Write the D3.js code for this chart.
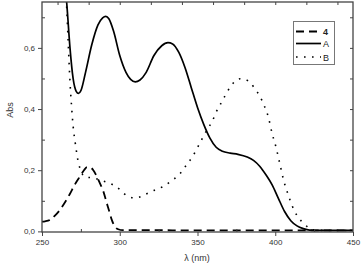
<html>
<script src='https://d3js.org/d3.v7.min.js'></script>
<style>
body {margin:0; background:#fff;}
text {font-family: 'Liberation Sans', Arial, sans-serif;}
</style>
<body>
<svg width=362 height=266></svg>
<script>
// data
var lambda4 = [250,252,255,258,261.5,265,268,271,274.5,277,279,281,283,285,287,289.5,291.5,293,295,297,299,302,320,350,400,450];
var abs4    = [0.032,0.033,0.037,0.05,0.07,0.097,0.123,0.152,0.18,0.2,0.21,0.209,0.2,0.182,0.16,0.13,0.095,0.07,0.036,0.015,0.007,0.004,0.004,0.003,0.003,0.003];

var lambdaA = [262,264,266,268,270,272,273.5,275,278,282,286,289,291,293,296,300,304,307,310,313,317,322,327,331,334,338,342,346,350,354,358,362,366,371,376,382,386,390,394,398,402,406,410,414,418,422,430,450];
var absA    = [1.0,0.85,0.74,0.6,0.5,0.458,0.451,0.46,0.52,0.61,0.675,0.698,0.703,0.695,0.655,0.575,0.52,0.497,0.489,0.495,0.52,0.575,0.607,0.617,0.613,0.585,0.535,0.47,0.405,0.35,0.305,0.275,0.262,0.256,0.252,0.243,0.232,0.213,0.185,0.152,0.108,0.065,0.035,0.018,0.009,0.004,0.003,0.003];

var lambdaB = [262,264,266,267,268,269,270,271.5,273,274.5,276.5,279,282,285,288.5,292,295,298,300.5,303,306,309,312,316.5,322,328,334,339,343,346.6,350,353,356,359.5,362,365,368,371,374,377.5,381,384,387,390,393,395.5,398,400.5,403,405.5,408,411,414.5,418.5,422,426,435,450];
var absB    = [1.1,0.9,0.72,0.6,0.49,0.41,0.345,0.285,0.235,0.205,0.183,0.176,0.176,0.172,0.166,0.16,0.154,0.145,0.135,0.123,0.113,0.11,0.111,0.121,0.134,0.147,0.168,0.19,0.218,0.243,0.274,0.303,0.331,0.36,0.39,0.418,0.446,0.472,0.49,0.499,0.496,0.485,0.466,0.443,0.41,0.375,0.32,0.275,0.22,0.165,0.125,0.082,0.048,0.025,0.01,0.004,0.003,0.003];

var xMajor = [250,300,350,400,450];
var yMajor = [0,0.2,0.4,0.6];
var seriesNames = ['4','A','B'];

var svg = d3.select('svg');
var pL = 42, pR = 353, pT = 2, pB = 232;
var xs = d3.scaleLinear().domain([250,450]).range([pL,pR]);
var ys = d3.scaleLinear().domain([-0.002,0.75]).range([pB,pT]);
var fmt = function(d) { return d3.format('.1f')(d).replace('.', ','); };

svg.append('clipPath').attr('id','plot').append('rect')
  .attr('x',pL).attr('y',pT).attr('width',pR-pL).attr('height',pB-pT);

function pts(lx, ly) { return lx.map(function(v,i) { return [v, ly[i]]; }); }
var line = d3.line().x(function(d){return xs(d[0]);}).y(function(d){return ys(d[1]);}).curve(d3.curveMonotoneX);

var g = svg.append('g').attr('clip-path','url(#plot)');
g.append('path').attr('d', line(pts(lambdaB,absB))).attr('fill','none').attr('stroke','#000')
  .attr('stroke-width',1.6).attr('stroke-dasharray','1.6,6.4');
g.append('path').attr('d', line(pts(lambdaA,absA))).attr('fill','none').attr('stroke','#000')
  .attr('stroke-width',1.7);
g.append('path').attr('d', line(pts(lambda4,abs4))).attr('fill','none').attr('stroke','#000')
  .attr('stroke-width',1.8).attr('stroke-dasharray','8,5');

// axes
var axisCol = '#444';
svg.append('g').attr('transform','translate(0,'+pB+')')
  .call(d3.axisBottom(xs).tickValues(xMajor).tickSize(4).tickFormat(d3.format('d')));
svg.append('g').attr('transform','translate(0,'+pB+')')
  .call(d3.axisBottom(xs).tickValues([275,325,375,425]).tickSize(-3).tickFormat(''));
svg.append('g').attr('transform','translate(0,'+pT+')')
  .call(d3.axisTop(xs).ticks(8).tickSize(-3).tickFormat(''));
svg.append('g').attr('transform','translate('+pL+',0)')
  .call(d3.axisLeft(ys).tickValues(yMajor).tickSize(4).tickFormat(fmt));
svg.append('g').attr('transform','translate('+pL+',0)')
  .call(d3.axisLeft(ys).tickValues([0.1,0.3,0.5,0.7]).tickSize(-3).tickFormat(''));
svg.append('g').attr('transform','translate('+pR+',0)')
  .call(d3.axisRight(ys).tickValues([0.1,0.2,0.3,0.4,0.5,0.6,0.7]).tickSize(-3).tickFormat(''));
svg.selectAll('.domain').remove();
svg.selectAll('.tick line').attr('stroke',axisCol).attr('stroke-width',1);
svg.selectAll('.tick text').attr('fill','#333').style('font-size','8px')
  .style('font-family',"'Liberation Sans', Arial, sans-serif");

svg.append('rect').attr('x',pL).attr('y',pT).attr('width',pR-pL).attr('height',pB-pT)
  .attr('fill','none').attr('stroke',axisCol).attr('stroke-width',1.3);

svg.append('text').attr('transform','translate(13,110) rotate(-90)').style('text-anchor','middle')
  .style('font-size','9px').attr('fill','#333').text('Abs');
svg.append('text').attr('x',197).attr('y',261).style('text-anchor','middle')
  .style('font-size','9px').attr('fill','#333').text('λ (nm)');

// legend
var leg = svg.append('g');
leg.append('rect').attr('x',293.5).attr('y',21.5).attr('width',41).attr('height',43)
  .attr('fill','#fff').attr('stroke','#777').attr('stroke-width',1);
var rowY = [31.5,43.5,57];
var dashes = ['8,5', null, '1.6,6.4'];
var widths = [1.8,1.7,1.6];
seriesNames.forEach(function(n,i) {
  var l = leg.append('line').attr('x1',296).attr('x2',321).attr('y1',rowY[i]).attr('y2',rowY[i])
    .attr('stroke','#000').attr('stroke-width',widths[i]);
  if (dashes[i]) l.attr('stroke-dasharray',dashes[i]);
  leg.append('text').attr('x',323).attr('y',rowY[i]+3.5).style('font-size','9px')
    .style('font-weight', i==0 ? 'bold' : 'normal').attr('fill','#222').text(n);
});
</script>
</body>
</html>
